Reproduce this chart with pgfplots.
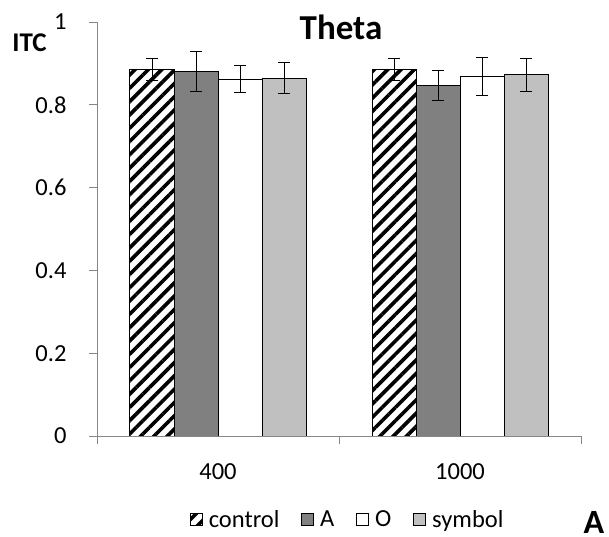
\documentclass[border=0pt]{standalone}
\usepackage{pgfplots}
\pgfplotsset{compat=1.18}
\usepackage{fontspec}
\setmainfont{Carlito}
\usetikzlibrary{patterns.meta}
\definecolor{axgray}{HTML}{868686}
\definecolor{darkbar}{HTML}{808080}
\definecolor{lightbar}{HTML}{C0C0C0}
\begin{document}
\begin{tikzpicture}
\useasboundingbox (0,0) rectangle (609bp,537bp);
\begin{axis}[
  at={(97bp,101bp)}, anchor=south west,
  scale only axis, width=484bp, height=414bp,
  ybar=0pt, bar width=44bp,
  xmin=-0.5, xmax=1.5, ymin=0, ymax=1,
  xtick={-0.5,0.5,1.5}, xticklabels={},
  extra x ticks={0,1}, extra x tick labels={400,1000},
  extra x tick style={major tick length=0pt},
  ytick={0,0.2,0.4,0.6,0.8,1},
  yticklabels={0,0.2,0.4,0.6,0.8,1},
  axis x line*=bottom, axis y line*=left,
  axis line style={axgray, line width=0.9bp},
  tick style={axgray, line width=0.9bp},
  tick align=outside,
  major tick length=8bp,
  /pgf/number format/assume math mode=true,
  ticklabel style={font=\fontsize{24.5bp}{28bp}\selectfont, text=black},
  yticklabel style={xshift=-19bp},
  xticklabel style={yshift=-24bp},
  legend style={at={(0.518,-0.202)}, anchor=center, draw=none, fill=none,
    font=\fontsize{24.5bp}{28bp}\selectfont, legend columns=-1,
    /tikz/every even column/.append style={column sep=20bp},
    /tikz/every odd column/.append style={column sep=4bp},
    inner sep=0pt},
  legend image code/.code={\draw[#1, line width=0.8bp] (0bp,-6bp) rectangle (12bp,6bp);},
  every axis plot/.append style={draw=black, line width=1bp,
    error bars/y dir=both, error bars/y explicit,
    error bars/error bar style={black, line width=1bp},
    error bars/error mark options={rotate=90, mark size=6bp, black, line width=1bp}},
]
\addplot[pattern={Lines[angle=45,distance=9.4bp,line width=3.6bp]}, pattern color=black]
  coordinates {(0,0.885) +- (0,0.027) (1,0.885) +- (0,0.027)};
\addplot[fill=darkbar]
  coordinates {(0,0.880) +- (0,0.048) (1,0.847) +- (0,0.036)};
\addplot[fill=white]
  coordinates {(0,0.862) +- (0,0.032) (1,0.869) +- (0,0.046)};
\addplot[fill=lightbar]
  coordinates {(0,0.864) +- (0,0.037) (1,0.872) +- (0,0.041)};
\legend{control,A,O,symbol}
\end{axis}
\node[font=\fontsize{35bp}{40bp}\selectfont\bfseries] at (341bp,510bp) {Theta};
\node[font=\fontsize{27bp}{30bp}\selectfont\bfseries] at (29.5bp,494.5bp) {ITC};
\node[font=\fontsize{34bp}{40bp}\selectfont\bfseries, anchor=base, inner sep=0pt] at (594bp,4bp) {A};
\end{tikzpicture}
\end{document}
